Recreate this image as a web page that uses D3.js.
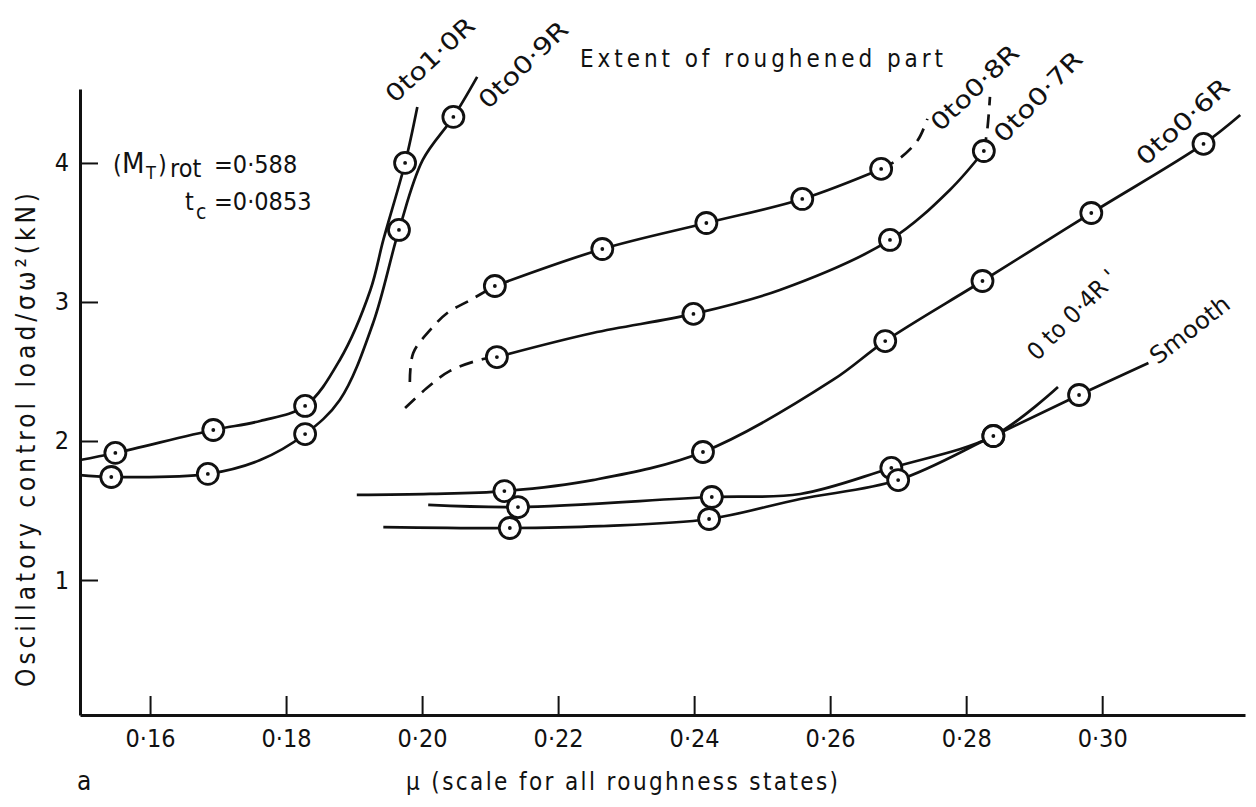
<!DOCTYPE html>
<html>
<head>
<meta charset="utf-8">
<script src="https://cdn.jsdelivr.net/npm/d3@7"></script>
<style>
  body { margin: 0; background: #fff; }
  svg { display: block; }
  text { font-family: "DejaVu Sans Condensed", "Liberation Sans Narrow", "DejaVu Sans", sans-serif; fill: #111; }
</style>
</head>
<body>
<svg id="chart"></svg>
<script>
// values, as [mu, load] pairs
var xTicks = [0.16, 0.18, 0.20, 0.22, 0.24, 0.26, 0.28, 0.30];
var yTicks = [1, 2, 3, 4];

// 0 to 1.0R
var r10Line = [[0.1497, 1.863], [0.1549, 1.914], [0.1693, 2.079], [0.1762, 2.144], [0.1828, 2.252],
  [0.1879, 2.583], [0.1924, 3.086], [0.1943, 3.446], [0.1975, 4.000], [0.1993, 4.403]];
var r10Pts = [[0.1549, 1.914], [0.1693, 2.079], [0.1828, 2.252], [0.1975, 4.000]];

// 0 to 0.9R
var r09Line = [[0.1497, 1.755], [0.1543, 1.741], [0.1685, 1.763], [0.1762, 1.863], [0.1828, 2.050],
  [0.1879, 2.295], [0.1928, 2.849], [0.1966, 3.518], [0.2001, 4.022], [0.2046, 4.331], [0.2081, 4.619]];
var r09Pts = [[0.1543, 1.741], [0.1685, 1.763], [0.1828, 2.050], [0.1966, 3.518], [0.2046, 4.331]];

// 0 to 0.8R
var r08Dash1 = [[0.1982, 2.424], [0.1987, 2.633], [0.2012, 2.799], [0.2037, 2.921], [0.2071, 3.014], [0.2107, 3.115]];
var r08Line = [[0.2107, 3.115], [0.2265, 3.381], [0.2418, 3.568], [0.2559, 3.741], [0.2675, 3.957]];
var r08Dash2 = [[0.2675, 3.957], [0.2703, 4.036], [0.2729, 4.165], [0.2743, 4.317]];
var r08Pts = [[0.2107, 3.115], [0.2265, 3.381], [0.2418, 3.568], [0.2559, 3.741], [0.2675, 3.957]];

// 0 to 0.7R
var r07Dash1 = [[0.1975, 2.237], [0.2007, 2.381], [0.2041, 2.504], [0.2090, 2.590], [0.2110, 2.604]];
var r07Line = [[0.2110, 2.604], [0.2251, 2.777], [0.2399, 2.914], [0.2526, 3.086], [0.2688, 3.446],
  [0.2776, 3.806], [0.2826, 4.086]];
var r07Dash2 = [[0.2826, 4.086], [0.2831, 4.237], [0.2835, 4.475]];
var r07Pts = [[0.2110, 2.604], [0.2399, 2.914], [0.2688, 3.446], [0.2826, 4.086]];

// 0 to 0.6R
var r06Line = [[0.1904, 1.612], [0.2012, 1.619], [0.2121, 1.640], [0.2251, 1.719], [0.2413, 1.921],
  [0.2604, 2.439], [0.2681, 2.719], [0.2824, 3.151], [0.2984, 3.640], [0.3149, 4.137], [0.3203, 4.345]];
var r06Pts = [[0.2121, 1.640], [0.2413, 1.921], [0.2681, 2.719], [0.2824, 3.151], [0.2984, 3.640], [0.3149, 4.137]];

// 0 to 0.4R
var r04Line = [[0.2009, 1.540], [0.2141, 1.525], [0.2426, 1.597], [0.2556, 1.619], [0.2690, 1.806],
  [0.2840, 2.036], [0.2935, 2.388]];
var r04Pts = [[0.2141, 1.525], [0.2426, 1.597], [0.2690, 1.806], [0.2840, 2.036]];

// smooth
var smLine = [[0.1943, 1.381], [0.2129, 1.374], [0.2262, 1.388], [0.2422, 1.439], [0.2556, 1.583],
  [0.2700, 1.719], [0.2840, 2.036], [0.2966, 2.331], [0.3068, 2.561]];
var smPts = [[0.2129, 1.374], [0.2422, 1.439], [0.2700, 1.719], [0.2840, 2.036], [0.2966, 2.331]];

var curveNames = ["0to1·0R", "0to0·9R", "0to0·8R", "0to0·7R", "0to0·6R", "0 to 0·4R '", "Smooth"];

var width = 1256, height = 807;
var svg = d3.select("#chart").attr("width", width).attr("height", height);

var x = d3.scaleLinear().domain([0.1497, 0.3210]).range([80, 1245]);
var y = d3.scaleLinear().domain([0.029, 4.532]).range([715, 89]);
var ink = "#111";

// axes, ticks point inward
var fmt = function (d) { return d3.format(".2f")(d).replace(".", "·"); };
var xAxis = svg.append("g")
  .attr("transform", "translate(0,715)")
  .call(d3.axisBottom(x).tickValues(xTicks).tickSizeInner(-19).tickSizeOuter(0).tickPadding(14).tickFormat(fmt));
var yAxis = svg.append("g")
  .attr("transform", "translate(80,0)")
  .call(d3.axisLeft(y).tickValues(yTicks).tickSizeInner(-18).tickSizeOuter(0).tickPadding(11).tickFormat(d3.format("d")));
[xAxis, yAxis].forEach(function (g) {
  g.selectAll("path.domain").attr("stroke", ink).attr("stroke-width", 3);
  g.selectAll(".tick line").attr("stroke", ink).attr("stroke-width", 2);
  g.selectAll(".tick text").style("font-size", "25px").attr("fill", ink)
    .style("font-family", "'DejaVu Sans Condensed', 'Liberation Sans Narrow', 'DejaVu Sans', sans-serif");
});

// curves
var line = d3.line().x(function (d) { return x(d[0]); }).y(function (d) { return y(d[1]); })
  .curve(d3.curveCatmullRom.alpha(0.5));
var plot = svg.append("g");
[r10Line, r09Line, r08Line, r07Line, r06Line, r04Line, smLine].forEach(function (s) {
  plot.append("path").attr("d", line(s)).attr("fill", "none")
    .attr("stroke", ink).attr("stroke-width", 2.7);
});
[r08Dash1, r08Dash2, r07Dash1, r07Dash2].forEach(function (s) {
  plot.append("path").attr("d", line(s)).attr("fill", "none")
    .attr("stroke", ink).attr("stroke-width", 2.7).attr("stroke-dasharray", "14,9");
});

// measured points: open circle with a dot
var allPts = [].concat(r10Pts, r09Pts, r08Pts, r07Pts, r06Pts, r04Pts, smPts);
var mk = plot.selectAll("g.mk").data(allPts).enter().append("g").attr("class", "mk")
  .attr("transform", function (d) { return "translate(" + x(d[0]) + "," + y(d[1]) + ")"; });
mk.append("circle").attr("r", 10.5).attr("fill", "#fff").attr("stroke", ink).attr("stroke-width", 2.8);
mk.append("circle").attr("r", 1.9).attr("fill", ink);

// curve labels: anchor in data space, angle in degrees
var labelAt = [[0.2012, 4.741], [0.2149, 4.705], [0.2813, 4.540], [0.2906, 4.475], [0.3119, 4.295], [0.2956, 2.906], [0.3129, 2.799]];
var labelRot = [-43, -44, -44, -46, -42, -45, -38];
var labelLen = [112, 114, 112, 116, 116, 116, 94];
svg.selectAll("text.lab").data(curveNames).enter().append("text").attr("class", "lab")
  .attr("transform", function (d, i) {
    return "translate(" + x(labelAt[i][0]) + "," + y(labelAt[i][1]) + ") rotate(" + labelRot[i] + ")";
  })
  .attr("text-anchor", "middle").attr("dominant-baseline", "central")
  .attr("textLength", function (d, i) { return labelLen[i]; }).attr("lengthAdjust", "spacingAndGlyphs")
  .style("font-size", "24px").text(function (d) { return d; });

svg.append("text").attr("x", 580).attr("y", 67).attr("textLength", 363).attr("lengthAdjust", "spacing")
  .style("font-size", "24px").text("Extent of roughened part");

// parameters
svg.append("text").attr("x", 113).attr("y", 173).style("font-size", "25px").text("(");
svg.append("text").attr("x", 122).attr("y", 173).style("font-size", "29px").text("M");
svg.append("text").attr("x", 146).attr("y", 179).style("font-size", "18px").text("T");
svg.append("text").attr("x", 158).attr("y", 173).style("font-size", "25px").text(")");
svg.append("text").attr("x", 170).attr("y", 177).style("font-size", "25px").text("rot");
svg.append("text").attr("x", 214).attr("y", 173).style("font-size", "25px").text("=0·588");
svg.append("text").attr("x", 185).attr("y", 210).style("font-size", "25px").text("t");
svg.append("text").attr("x", 196).attr("y", 219).style("font-size", "21px").text("c");
svg.append("text").attr("x", 214).attr("y", 210).style("font-size", "25px").text("=0·0853");

// axis titles
svg.append("text").attr("transform", "translate(35,440) rotate(-90)").attr("text-anchor", "middle")
  .attr("textLength", 494).attr("lengthAdjust", "spacing")
  .style("font-size", "26px").text("Oscillatory control load/σω²(kN)");
svg.append("text").attr("x", 406).attr("y", 790).attr("textLength", 432).attr("lengthAdjust", "spacing")
  .style("font-size", "24px").text("μ (scale for all roughness states)");
svg.append("text").attr("x", 77).attr("y", 790).style("font-size", "26px").text("a");
</script>
</body>
</html>
